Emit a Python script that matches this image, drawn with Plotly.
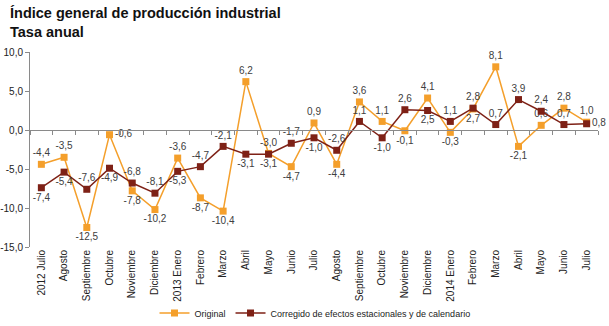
import plotly.graph_objects as go

months = ["2012 Julio", "Agosto", "Septiembre", "Octubre", "Noviembre", "Diciembre",
          "2013 Enero", "Febrero", "Marzo", "Abril", "Mayo", "Junio", "Julio",
          "Agosto ", "Septiembre ", "Octubre ", "Noviembre ", "Diciembre ",
          "2014 Enero", "Febrero ", "Marzo ", "Abril ", "Mayo ", "Junio ", "Julio "]

original = [-4.4, -3.5, -12.5, -0.6, -7.8, -10.2, -3.6, -8.7, -10.4, 6.2, -3.0, -4.7, 0.9,
            -4.4, 3.6, 1.1, -0.1, 4.1, -0.3, 2.7, 8.1, -2.1, 0.6, 2.8, 1.0]
corregido = [-7.4, -5.4, -7.6, -4.9, -6.8, -8.1, -5.3, -4.7, -2.1, -3.1, -3.1, -1.7, -1.0,
             -2.6, 1.1, -1.0, 2.6, 2.5, 1.1, 2.8, 0.7, 3.9, 2.4, 0.7, 0.8]

orig_pos = ["top center", "top center", "bottom center", "middle right", "bottom center",
            "bottom center", "top center", "bottom center", "bottom center", "top center",
            "top center", "bottom center", "top center", "bottom center", "top center",
            "top center", "bottom center", "top center", "bottom center", "bottom center",
            "top center", "bottom center", "top center", "top center", "top center"]
corr_pos = ["bottom center", "bottom center", "top center", "bottom center", "top center",
            "top center", "bottom center", "top center", "top center", "bottom center",
            "bottom center", "top center", "bottom center", "top center", "top center",
            "bottom center", "top center", "bottom center", "top center", "top center",
            "top center", "top center", "top center", "top center", "middle right"]

y_ticks = [-15, -10, -5, 0, 5, 10]
y_ticktext = ["-15,0", "-10,0", "-5,0", "0,0", "5,0", "10,0"]

ORANGE = "#F49F2B"
DARK = "#7E2116"
FONT = "Liberation Sans, Arial, sans-serif"

W, H = 609, 326
ML, MR, MT, MB = 30, 11, 52, 79
PW, PH = W - ML - MR, H - MT - MB


def fmt(v):
    return f"{v:.1f}".replace(".", ",")


x_idx = list(range(len(months)))
n = len(months)

fig = go.Figure()
fig.add_trace(go.Scatter(
    x=x_idx, y=original, name="Original", mode="lines+markers+text",
    line=dict(color=ORANGE, width=1.5),
    marker=dict(symbol="square", size=7, color=ORANGE),
    text=[fmt(v) for v in original], textposition=orig_pos,
    textfont=dict(size=10, color="#404040", family=FONT),
    cliponaxis=False,
))
fig.add_trace(go.Scatter(
    x=x_idx, y=corregido, name="Corregido de efectos estacionales y de calendario",
    mode="lines+markers+text",
    line=dict(color=DARK, width=1.5),
    marker=dict(symbol="square", size=7, color=DARK),
    text=[fmt(v) for v in corregido], textposition=corr_pos,
    textfont=dict(size=10, color="#404040", family=FONT),
    cliponaxis=False,
))
# invisible trace to carry the zero-line category axis
fig.add_trace(go.Scatter(x=[-0.5, n - 0.5], y=[0, 0], xaxis="x2", mode="lines",
                         line=dict(width=0), showlegend=False, hoverinfo="skip"))

fig.update_layout(
    width=W, height=H,
    margin=dict(l=ML, r=MR, t=MT, b=MB, autoexpand=False),
    paper_bgcolor="white", plot_bgcolor="white",
    font=dict(family=FONT, color="#333333"),
    xaxis=dict(type="linear", range=[-0.5, n - 0.5], tickvals=x_idx,
               ticktext=[m.strip() for m in months], tickangle=-90,
               tickfont=dict(size=10, color="#222222"), showline=False, ticks="",
               showgrid=False, zeroline=False, automargin=False),
    xaxis2=dict(overlaying="x", anchor="free", position=0.6, range=[-0.5, n - 0.5],
                tickvals=[i - 0.5 for i in range(n + 1)], ticks="outside", ticklen=4,
                tickcolor="#8a8a8a", showticklabels=False, showline=True,
                linecolor="#8a8a8a", linewidth=1, showgrid=False, zeroline=False,
                side="bottom", automargin=False),
    yaxis=dict(range=[-15, 10], tickvals=y_ticks, ticktext=y_ticktext,
               ticks="outside", ticklen=4, tickcolor="#8a8a8a",
               showline=True, linecolor="#8a8a8a", linewidth=1,
               showgrid=False, zeroline=False, automargin=False,
               tickfont=dict(size=10, color="#222222")),
    showlegend=True,
    legend=dict(orientation="h", x=(315 - ML) / PW, xanchor="center",
                y=-(313 - (MT + PH)) / PH, yanchor="middle",
                font=dict(size=9, color="#222222"), itemwidth=30,
                bgcolor="rgba(0,0,0,0)"),
    annotations=[dict(
        text="<b>Índice general de producción industrial<br>Tasa anual</b>",
        xref="paper", yref="paper", x=(8 - ML) / PW, y=1 + (MT - 3) / PH,
        xanchor="left", yanchor="top", align="left", showarrow=False,
        font=dict(size=14.5, color="#111111", family=FONT))],
)

fig.write_html("out.html")
